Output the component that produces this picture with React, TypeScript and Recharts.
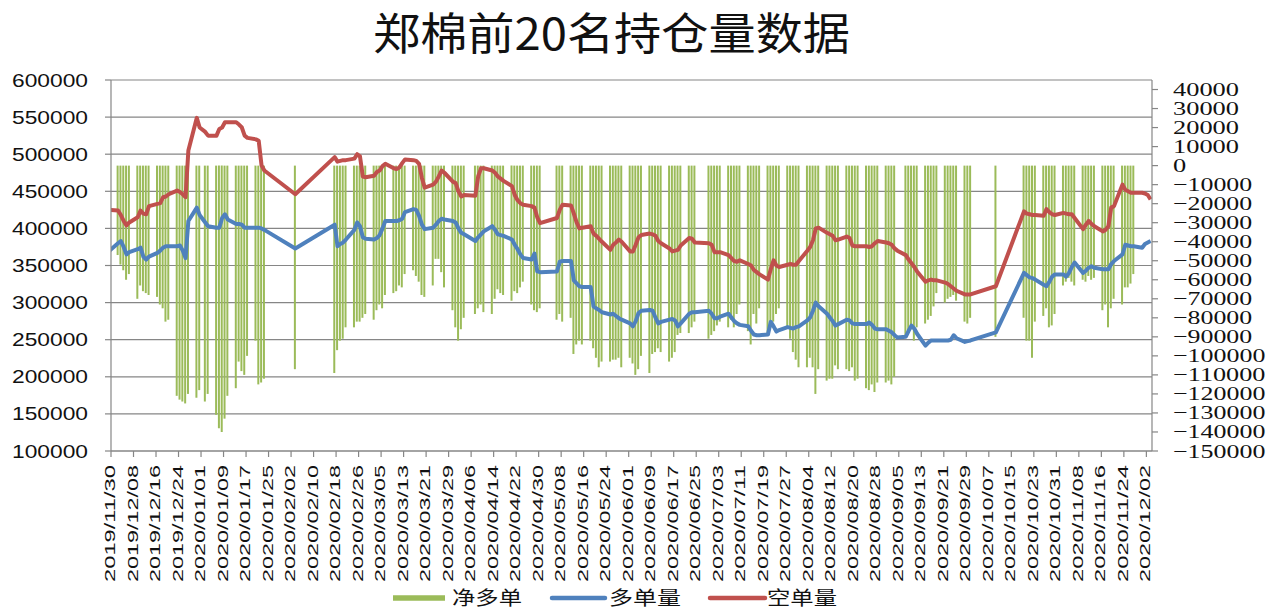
import { Bar, CartesianGrid, ComposedChart, Line, XAxis, YAxis } from 'recharts';

// trading dates (one row per day that has data)
const dates = [
  '2019/11/29',
  '2019/12/02', '2019/12/03', '2019/12/04', '2019/12/05', '2019/12/06',
  '2019/12/09', '2019/12/10', '2019/12/11', '2019/12/12', '2019/12/13',
  '2019/12/16', '2019/12/17', '2019/12/18', '2019/12/19', '2019/12/20',
  '2019/12/23', '2019/12/24', '2019/12/25', '2019/12/26', '2019/12/27',
  '2019/12/30', '2019/12/31',
  '2020/01/02', '2020/01/03', '2020/01/06', '2020/01/07', '2020/01/08', '2020/01/09', '2020/01/10',
  '2020/01/13', '2020/01/14', '2020/01/15', '2020/01/16', '2020/01/17',
  '2020/01/20', '2020/01/21', '2020/01/22', '2020/01/23',
  '2020/02/03',
  '2020/02/17', '2020/02/18', '2020/02/19', '2020/02/20', '2020/02/21',
  '2020/02/24', '2020/02/25', '2020/02/26', '2020/02/27', '2020/02/28',
  '2020/03/02', '2020/03/03', '2020/03/04', '2020/03/05', '2020/03/06',
  '2020/03/09', '2020/03/10', '2020/03/11', '2020/03/12', '2020/03/13',
  '2020/03/16', '2020/03/17', '2020/03/18', '2020/03/19', '2020/03/20',
  '2020/03/23', '2020/03/24', '2020/03/25', '2020/03/26', '2020/03/27',
  '2020/03/30', '2020/03/31',
  '2020/04/01', '2020/04/02', '2020/04/03',
  '2020/04/07', '2020/04/08', '2020/04/09', '2020/04/10',
  '2020/04/13', '2020/04/14', '2020/04/15', '2020/04/16', '2020/04/17',
  '2020/04/20', '2020/04/21', '2020/04/22', '2020/04/23', '2020/04/24',
  '2020/04/27', '2020/04/28', '2020/04/29', '2020/04/30',
  '2020/05/06', '2020/05/07', '2020/05/08',
  '2020/05/11', '2020/05/12', '2020/05/13', '2020/05/14', '2020/05/15',
  '2020/05/18', '2020/05/19', '2020/05/20', '2020/05/21', '2020/05/22',
  '2020/05/25', '2020/05/26', '2020/05/27', '2020/05/28', '2020/05/29',
  '2020/06/01', '2020/06/02', '2020/06/03', '2020/06/04', '2020/06/05',
  '2020/06/08', '2020/06/09', '2020/06/10', '2020/06/11', '2020/06/12',
  '2020/06/15', '2020/06/16', '2020/06/17', '2020/06/18', '2020/06/19',
  '2020/06/22', '2020/06/23', '2020/06/24',
  '2020/06/29', '2020/06/30',
  '2020/07/01', '2020/07/02', '2020/07/03',
  '2020/07/06', '2020/07/07', '2020/07/08', '2020/07/09', '2020/07/10',
  '2020/07/13', '2020/07/14', '2020/07/15', '2020/07/16', '2020/07/17',
  '2020/07/20', '2020/07/21', '2020/07/22', '2020/07/23', '2020/07/24',
  '2020/07/27', '2020/07/28', '2020/07/29', '2020/07/30', '2020/07/31',
  '2020/08/03', '2020/08/04', '2020/08/05', '2020/08/06', '2020/08/07',
  '2020/08/10', '2020/08/11', '2020/08/12', '2020/08/13', '2020/08/14',
  '2020/08/17', '2020/08/18', '2020/08/19', '2020/08/20', '2020/08/21',
  '2020/08/24', '2020/08/25', '2020/08/26', '2020/08/27', '2020/08/28',
  '2020/08/31',
  '2020/09/01', '2020/09/02', '2020/09/03', '2020/09/04',
  '2020/09/07', '2020/09/08', '2020/09/09', '2020/09/10', '2020/09/11',
  '2020/09/14', '2020/09/15', '2020/09/16', '2020/09/17', '2020/09/18',
  '2020/09/21', '2020/09/22', '2020/09/23', '2020/09/24', '2020/09/25',
  '2020/09/28', '2020/09/29', '2020/09/30',
  '2020/10/09',
  '2020/10/19', '2020/10/20', '2020/10/21', '2020/10/22', '2020/10/23',
  '2020/10/26', '2020/10/27', '2020/10/28', '2020/10/29', '2020/10/30',
  '2020/11/02', '2020/11/03', '2020/11/04', '2020/11/05', '2020/11/06',
  '2020/11/09', '2020/11/10', '2020/11/11', '2020/11/12', '2020/11/13',
  '2020/11/16', '2020/11/17', '2020/11/18', '2020/11/19', '2020/11/20',
  '2020/11/23', '2020/11/24', '2020/11/25', '2020/11/26', '2020/11/27',
  '2020/11/30', '2020/12/01', '2020/12/02', '2020/12/03',
];

// 多单量
const longPos = [
  370000,
  380000, 383000, 375000, 365000, 368000,
  372000, 374000, 362000, 358000, 362000,
  367000, 370000, 374000, 376000, 376000,
  376000, 377000, 370000, 360000, 410000,
  428000, 418000,
  408000, 403000, 401000, 401000, 414000, 419000, 412000,
  406000, 406000, 405000, 401000, 401000,
  401000, 401000, 400000, 398000,
  373000,
  405000, 376000, 379000, 381000, 385000,
  398000, 408000, 403000, 388000, 386000,
  385000, 387000, 391000, 400000, 410000,
  410000, 410000, 411000, 413000, 422000,
  426000, 425000, 417000, 405000, 399000,
  401000, 405000, 410000, 413000, 412000,
  410000, 408000,
  400000, 394000, 392000,
  383000, 388000, 392000, 396000,
  403000, 398000, 392000, 391000, 390000,
  385000, 378000, 372000, 365000, 360000,
  358000, 366000, 342000, 341000,
  342000, 355000, 356000,
  356000, 330000, 326000, 322000, 321000,
  321000, 295000, 292000, 290000, 287000,
  284000, 285000, 282000, 279000, 277000,
  272000, 268000, 275000, 286000, 289000,
  290000, 289000, 280000, 272000, 274000,
  277000, 278000, 276000, 268000, 272000,
  285000, 287000, 287000,
  289000, 285000,
  279000, 279000, 281000,
  285000, 280000, 275000, 272000, 270000,
  268000, 262000, 257000, 256000, 256000,
  257000, 274000, 268000, 261000, 263000,
  267000, 266000, 265000, 267000, 268000,
  276000, 280000, 289000, 300000, 295000,
  285000, 280000, 275000, 269000, 271000,
  277000, 276000, 272000, 271000, 271000,
  271000, 273000, 270000, 265000, 264000,
  264000,
  262000, 260000, 256000, 253000,
  254000, 262000, 269000, 265000, 258000,
  242000, 246000, 249000, 249000, 249000,
  249000, 249000, 250000, 256000, 252000,
  247000, 248000, 249000,
  260000,
  340000, 337000, 334000, 333000, 331000,
  324000, 322000, 328000, 335000, 338000,
  338000, 335000, 340000, 348000, 354000,
  340000, 343000, 347000, 349000, 347000,
  345000, 345000, 345000, 352000, 356000,
  365000, 378000, 377000, 376000, 376000,
  374000, 379000, 381000, 383000,
];

// 空单量
const shortPos = [
  425000,
  424000, 418000, 410000, 404000, 408000,
  415000, 424000, 420000, 419000, 430000,
  433000, 434000, 442000, 443000, 446000,
  451000, 449000, 446000, 442000, 505000,
  549000, 536000,
  530000, 525000, 525000, 534000, 536000, 543000, 543000,
  543000, 540000, 536000, 525000, 522000,
  520000, 518000, 485000, 478000,
  446000,
  496000, 490000, 491000, 492000, 492000,
  494000, 500000, 497000, 470000, 469000,
  471000, 476000, 478000, 484000, 487000,
  481000, 480000, 482000, 488000, 493000,
  492000, 491000, 487000, 468000, 455000,
  459000, 463000, 470000, 478000, 475000,
  463000, 461000,
  450000, 443000, 445000,
  444000, 470000, 481000, 481000,
  478000, 475000, 470000, 467000, 464000,
  457000, 445000, 438000, 434000, 432000,
  430000, 428000, 415000, 407000,
  414000, 425000, 432000,
  431000, 420000, 408000, 400000, 401000,
  403000, 393000, 390000, 386000, 382000,
  371000, 378000, 381000, 385000, 382000,
  369000, 369000, 378000, 388000, 391000,
  393000, 392000, 390000, 383000, 380000,
  373000, 369000, 370000, 371000, 377000,
  387000, 386000, 381000,
  380000, 378000,
  368000, 368000, 368000,
  364000, 360000, 356000, 355000, 357000,
  352000, 350000, 344000, 341000, 338000,
  331000, 345000, 357000, 350000, 348000,
  351000, 352000, 351000, 351000, 356000,
  370000, 375000, 384000, 400000, 401000,
  394000, 392000, 390000, 384000, 385000,
  389000, 387000, 377000, 376000, 376000,
  376000, 375000, 376000, 380000, 383000,
  381000,
  380000, 378000, 373000, 370000,
  364000, 358000, 353000, 348000, 342000,
  328000, 330000, 331000, 330000, 330000,
  327000, 325000, 322000, 319000, 316000,
  311000, 311000, 311000,
  322000,
  423000, 420000, 419000, 418000, 418000,
  417000, 426000, 422000, 419000, 418000,
  421000, 420000, 419000, 419000, 414000,
  399000, 405000, 410000, 406000, 403000,
  396000, 398000, 403000, 428000, 430000,
  459000, 452000, 450000, 448000, 448000,
  448000, 447000, 445000, 439000,
];

// 净多单 (right axis)
const netPos = [
  null,
  -47000, -52000, -55000, -60000, -57000,
  -70000, -63000, -66000, -67000, -68000,
  -69000, -73000, -75000, -82000, -81000,
  -121000, -123000, -124000, -125000, -120000,
  -122000, -118000,
  -124000, -120000, -131000, -138000, -140000, -133000, -121000,
  -117000, -103000, -108000, -110000, -100000,
  -92000, -115000, -114000, -112000,
  -107000,
  -109000, -97000, -92000, -91000, -85000,
  -85000, -82000, -82000, -80000, -78000,
  -81000, -76000, -73000, -75000, -68000,
  -67000, -66000, -63000, -64000, -57000,
  -55000, -58000, -61000, -68000, -69000,
  -63000, -49000, -49000, -56000, -64000,
  -76000, -85000,
  -92000, -86000, -80000,
  -78000, -75000, -73000, -77000,
  -78000, -70000, -65000, -67000, -68000,
  -71000, -66000, -67000, -64000, -61000,
  -73000, -76000, -77000, -75000,
  -81000, -78000, -82000,
  -80000, -99000, -94000, -92000, -94000,
  -92000, -96000, -101000, -106000, -103000,
  -103000, -102000, -102000, -101000, -106000,
  -101000, -104000, -110000, -107000, -100000,
  -109000, -99000, -98000, -96000, -98000,
  -103000, -101000, -98000, -89000, -88000,
  -88000, -85000, -82000,
  -91000, -89000,
  -87000, -84000, -82000,
  -85000, -81000, -85000, -78000, -73000,
  -87000, -94000, -78000, -83000, -75000,
  -89000, -85000, -82000, -78000, -75000,
  -85000, -91000, -98000, -102000, -106000,
  -106000, -101000, -106000, -120000, -107000,
  -113000, -112000, -112000, -105000, -107000,
  -107000, -108000, -106000, -113000, -112000,
  -117000, -118000, -115000, -119000, -114000,
  -114000,
  -113000, -115000, -111000, null,
  -90000, -88000, -86000, -92000, -85000,
  -83000, -81000, -79000, -74000, -67000,
  -72000, -70000, -69000, -68000, -71000,
  -82000, -83000, -80000,
  -90000,
  -80000, -92000, -92000, -101000, -82000,
  -79000, -75000, -85000, -84000, -78000,
  -63000, -61000, -59000, -61000, -63000,
  -60000, -61000, -58000, -60000, -59000,
  -76000, -73000, -85000, -75000, -70000,
  -73000, -64000, -64000, -62000, -57000,
  null, null, null, null,
];

const tickLabels = [
  '2019/11/30', '2019/12/08', '2019/12/16', '2019/12/24', '2020/01/01', '2020/01/09',
  '2020/01/17', '2020/01/25', '2020/02/02', '2020/02/10', '2020/02/18', '2020/02/26',
  '2020/03/05', '2020/03/13', '2020/03/21', '2020/03/29', '2020/04/06', '2020/04/14',
  '2020/04/22', '2020/04/30', '2020/05/08', '2020/05/16', '2020/05/24', '2020/06/01',
  '2020/06/09', '2020/06/17', '2020/06/25', '2020/07/03', '2020/07/11', '2020/07/19',
  '2020/07/27', '2020/08/04', '2020/08/12', '2020/08/20', '2020/08/28', '2020/09/05',
  '2020/09/13', '2020/09/21', '2020/09/29', '2020/10/07', '2020/10/15', '2020/10/23',
  '2020/10/31', '2020/11/08', '2020/11/16', '2020/11/24', '2020/12/02',
];

const leftTicks = [100000, 150000, 200000, 250000, 300000, 350000, 400000, 450000, 500000, 550000, 600000];
const rightTicks = [
  -150000, -140000, -130000, -120000, -110000, -100000, -90000, -80000, -70000, -60000,
  -50000, -40000, -30000, -20000, -10000, 0, 10000, 20000, 30000, 40000,
];

const ORIGIN = Date.UTC(2019, 10, 30);
const dayOf = (s: string) => {
  const [y, m, d] = s.split('/').map(Number);
  return Math.round((Date.UTC(y, m - 1, d) - ORIGIN) / 86400000);
};

// date axis: each day is a 1-day band, points sit in the middle of the band
const rows = dates.map((date, i) => ({
  date,
  x: dayOf(date) + 0.5,
  long: longPos[i],
  short: shortPos[i],
  net: netPos[i],
}));

const tickDays = tickLabels.map(dayOf);
const labelByDay: Record<number, string> = {};
tickLabels.forEach((t) => (labelByDay[dayOf(t)] = t));

const AXIS = '#868686';
const GREEN = '#9BBB59';
const BLUE = '#4F81BD';
const RED = '#C0504D';

const XTick = (props: any) => {
  const { x, y, payload } = props;
  return (
    <text
      transform={`translate(${x + 4},${y}) rotate(-90)`}
      textAnchor="end"
      fontFamily="'Liberation Sans', Arial, sans-serif"
      fontSize={15}
      fill="#111"
      textLength={117}
      lengthAdjust="spacingAndGlyphs"
    >
      {labelByDay[payload.value]}
    </text>
  );
};

const LeftTick = (props: any) => {
  const { x, y, payload } = props;
  return (
    <text
      x={x}
      y={y}
      dy={6.5}
      textAnchor="end"
      fontFamily="'Liberation Sans', Arial, sans-serif"
      fontSize={18}
      fill="#111"
      textLength={76}
      lengthAdjust="spacingAndGlyphs"
    >
      {String(payload.value)}
    </text>
  );
};

const RightTick = (props: any) => {
  const { x, y, payload } = props;
  const v = payload.value as number;
  const s = v < 0 ? '\u2212' + String(-v) : String(v);
  return (
    <text
      x={x}
      y={y}
      dy={6.5}
      textAnchor="start"
      fontFamily="'Liberation Serif', 'Times New Roman', serif"
      fontSize={19}
      fill="#111"
      textLength={13.2 * s.length}
      lengthAdjust="spacingAndGlyphs"
    >
      {s}
    </text>
  );
};

const legendItems = [
  { name: '净多单', color: GREEN, x1: 393, x2: 445, tx: 452, w: 70, h: 5.5, cap: 'butt' },
  { name: '多单量', color: BLUE, x1: 552, x2: 605, tx: 609, w: 72, h: 4.5, cap: 'round' },
  { name: '空单量', color: RED, x1: 710, x2: 765, tx: 767, w: 70, h: 4.5, cap: 'round' },
];

export default function App() {
  return (
    <div style={{ position: 'absolute', left: 0, top: 0, width: 1278, height: 609, background: '#fff' }}>
      <svg width={1278} height={62} style={{ position: 'absolute', left: 0, top: 0 }}>
        <text
          x={373}
          y={50}
          fontFamily="'Noto Sans CJK SC', sans-serif"
          fontSize={44}
          fill="#111"
          textLength={477}
          lengthAdjust="spacingAndGlyphs"
        >
          郑棉前20名持仓量数据
        </text>
      </svg>
      <ComposedChart width={1278} height={609} data={rows} margin={{ top: 80, right: 0, bottom: 0, left: 0 }}>
        <CartesianGrid yAxisId="left" vertical={false} stroke={AXIS} strokeWidth={1.2} />
        <XAxis
          type="number"
          dataKey="x"
          domain={[0, 370]}
          allowDataOverflow
          ticks={tickDays}
          interval={0}
          height={158}
          tickSize={6}
          tickMargin={8}
          tick={<XTick />}
          stroke={AXIS}
          strokeWidth={1.2}
        />
        <YAxis
          yAxisId="left"
          width={111}
          domain={[100000, 600000]}
          ticks={leftTicks}
          interval={0}
          tickSize={6}
          tickMargin={17}
          tick={<LeftTick />}
          stroke={AXIS}
          strokeWidth={1.2}
        />
        <YAxis
          yAxisId="right"
          orientation="right"
          width={126}
          domain={[-150000, 45000]}
          allowDataOverflow
          ticks={rightTicks}
          interval={0}
          tickSize={6}
          tickMargin={15}
          tick={<RightTick />}
          stroke={AXIS}
          strokeWidth={1.2}
        />
        <Bar yAxisId="right" dataKey="net" fill={GREEN} barSize={2} isAnimationActive={false} />
        <Line
          yAxisId="left"
          dataKey="long"
          stroke={BLUE}
          strokeWidth={4}
          strokeLinejoin="round"
          dot={false}
          activeDot={false}
          connectNulls
          isAnimationActive={false}
        />
        <Line
          yAxisId="left"
          dataKey="short"
          stroke={RED}
          strokeWidth={4}
          strokeLinejoin="round"
          dot={false}
          activeDot={false}
          connectNulls
          isAnimationActive={false}
        />
      </ComposedChart>
      <svg width={1278} height={29} style={{ position: 'absolute', left: 0, top: 580 }}>
        {legendItems.map((it) => (
          <g key={it.name}>
            <line
              x1={it.x1}
              x2={it.x2}
              y1={18}
              y2={18}
              stroke={it.color}
              strokeWidth={it.h}
              strokeLinecap={it.cap as any}
            />
            <text
              x={it.tx}
              y={25}
              fontFamily="'Noto Sans CJK SC', sans-serif"
              fontSize={19}
              fill="#111"
              textLength={it.w}
              lengthAdjust="spacingAndGlyphs"
            >
              {it.name}
            </text>
          </g>
        ))}
      </svg>
    </div>
  );
}
